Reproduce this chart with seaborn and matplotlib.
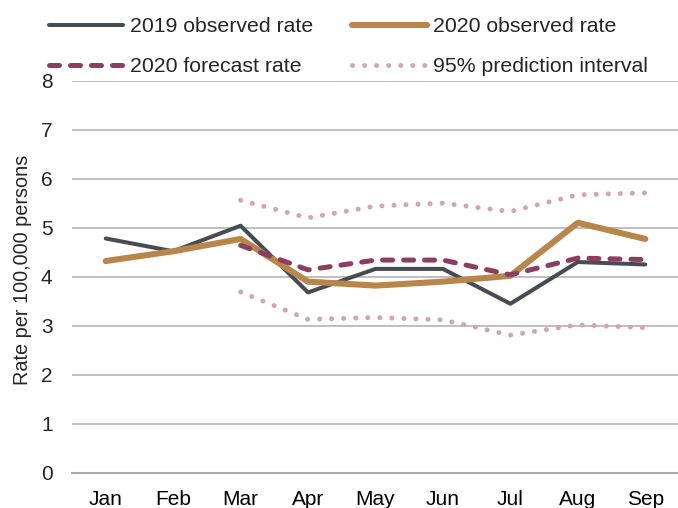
import numpy as np
import pandas as pd
import matplotlib
matplotlib.use("Agg")
import matplotlib.pyplot as plt
import seaborn as sns

# ---- data ----
months = ["Jan", "Feb", "Mar", "Apr", "May", "Jun", "Jul", "Aug", "Sep"]
rate_2019 = [4.78, 4.52, 5.04, 3.68, 4.16, 4.16, 3.45, 4.30, 4.25]
rate_2020 = [4.32, 4.52, 4.77, 3.90, 3.82, 3.90, 4.02, 5.10, 4.77]
forecast_months = ["Mar", "Apr", "May", "Jun", "Jul", "Aug", "Sep"]
forecast_2020 = [4.64, 4.14, 4.34, 4.34, 4.04, 4.38, 4.35]
pi_upper = [5.56, 5.20, 5.44, 5.50, 5.33, 5.67, 5.71]
pi_lower = [3.69, 3.13, 3.17, 3.12, 2.81, 3.02, 2.96]
y_ticks = [0, 1, 2, 3, 4, 5, 6, 7, 8]
y_label = "Rate per 100,000 persons"
labels = ["2019 observed rate", "2020 observed rate",
          "2020 forecast rate", "95% prediction interval"]

sns.set_style("white")
plt.rcParams["font.family"] = ["Liberation Sans", "DejaVu Sans"]

C2019 = "#474c52"
C2020 = "#b8864a"
CFC = "#8c3d62"
CPI = "#d2a5b6"
CGRID = "#adadad"

pos = {m: i for i, m in enumerate(months)}
x_all = [pos[m] for m in months]
x_fc = [pos[m] for m in forecast_months]

fig = plt.figure(figsize=(6.78, 5.08), dpi=100)
ax = fig.add_axes([72 / 678, 35 / 508, 607 / 678, 392.5 / 508])

# prediction interval
sns.lineplot(x=x_fc, y=pi_upper, ax=ax, color=CPI, linewidth=3.6, zorder=2)
sns.lineplot(x=x_fc, y=pi_lower, ax=ax, color=CPI, linewidth=3.6, zorder=2)
for ln in ax.lines[-2:]:
    ln.set_dashes((0.01, 2.4))
    ln.set_dash_capstyle("round")
l_pi = ax.lines[-1]

sns.lineplot(x=x_all, y=rate_2019, ax=ax, color=C2019, linewidth=2.9, zorder=3)
l19 = ax.lines[-1]
l19.set_solid_capstyle("round")
sns.lineplot(x=x_all, y=rate_2020, ax=ax, color=C2020, linewidth=4.4, zorder=4)
l20 = ax.lines[-1]
l20.set_solid_capstyle("round")
sns.lineplot(x=x_fc, y=forecast_2020, ax=ax, color=CFC, linewidth=3.6, zorder=5)
lfc = ax.lines[-1]
lfc.set_dashes((2.0, 2.2))
lfc.set_dash_capstyle("round")

ax.set_xlim(-0.5, len(months) - 0.5)
ax.set_ylim(y_ticks[0], y_ticks[-1])
ax.set_yticks(y_ticks)
ax.set_xticks(x_all)
ax.set_xticklabels(months)
ax.set_xticks(np.arange(-0.5, len(months), 1.0), minor=True)
ax.tick_params(axis="x", which="major", length=0, pad=12, labelsize=15, colors="black")
ax.tick_params(axis="x", which="minor", length=6, width=1.5, color=CGRID, direction="out")
ax.tick_params(axis="y", length=0, pad=14, labelsize=15)

ax.yaxis.grid(True, color=CGRID, linewidth=1.1)
ax.xaxis.grid(False)
ax.set_axisbelow(True)
for s in ["left", "right", "top"]:
    ax.spines[s].set_visible(False)
ax.spines["bottom"].set_color(CGRID)
ax.spines["bottom"].set_linewidth(1.5)

ax.set_xlabel("")
ax.set_ylabel(y_label, fontsize=14.3)
ax.yaxis.set_label_coords(-0.066, 0.517)

if ax.get_legend() is not None:
    ax.get_legend().remove()
fig.legend([l19, lfc, l20, l_pi], [labels[0], labels[2], labels[1], labels[3]],
           ncol=2, loc="upper left", bbox_to_anchor=(49 / 678, 1 - 17 / 508),
           frameon=False, fontsize=15.3, handlelength=3.5, handletextpad=0.3,
           columnspacing=1.85, labelspacing=1.0, borderpad=0, borderaxespad=0)

fig.savefig("out.png", dpi=100)
